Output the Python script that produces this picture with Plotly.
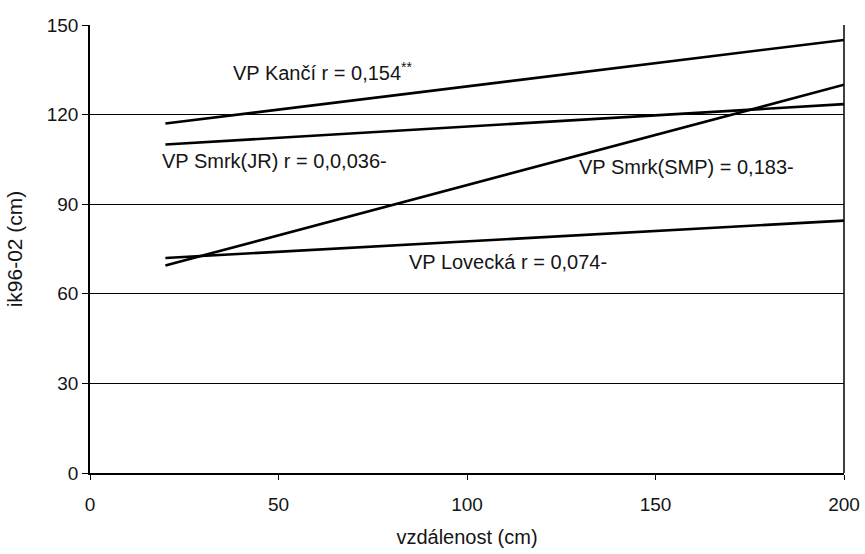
import plotly.graph_objects as go

# Regression lines: ik96-02 vs. distance, one per stand
distance = [20, 200]
kanci = [117, 145]
smrk_jr = [110, 123.5]
smrk_smp = [69.5, 130]
lovecka = [72, 84.5]

series = [
    ("VP Kančí", kanci),
    ("VP Smrk(JR)", smrk_jr),
    ("VP Smrk(SMP)", smrk_smp),
    ("VP Lovecká", lovecka),
]

# Line labels with correlation coefficients (x, y in data units)
labels = [
    ("VP Kančí r = 0,154<sup>**</sup>", 37.5, 134.5),
    ("VP Smrk(JR) r = 0,0,036-", 18.5, 104.5),
    ("VP Smrk(SMP) = 0,183-", 129.3, 102.3),
    ("VP Lovecká r = 0,074-", 84.2, 70.6),
]

x_ticks = [0, 50, 100, 150, 200]
y_ticks = [0, 30, 60, 90, 120, 150]

FONT = "Liberation Sans, Arial, sans-serif"
TXT = "#151515"

fig = go.Figure()
for name, vals in series:
    fig.add_trace(go.Scatter(
        x=distance, y=vals, mode="lines", name=name,
        line=dict(color="black", width=2.6), showlegend=False,
    ))

for text, x, y in labels:
    fig.add_annotation(
        x=x, y=y, text=text, showarrow=False, xanchor="left", yanchor="middle",
        font=dict(family=FONT, size=20, color=TXT),
    )

fig.update_xaxes(
    range=[0, 200], tickvals=x_ticks, ticks="outside", ticklen=5, tickcolor="black",
    ticklabelstandoff=8, automargin=False,
    showgrid=False, showline=True, linecolor="black", linewidth=1.5, mirror=False,
    zeroline=False,
    title=dict(text="vzdálenost (cm)", font=dict(family=FONT, size=20, color=TXT), standoff=16),
    tickfont=dict(family=FONT, size=19, color=TXT),
)
fig.update_yaxes(
    range=[0, 150], tickvals=y_ticks, ticks="outside", ticklen=6, tickcolor="black",
    automargin=False,
    showgrid=True, gridcolor="black", gridwidth=1.2,
    showline=True, linecolor="black", linewidth=1.5, zeroline=False,
    title=dict(text="ik96-02 (cm)", font=dict(family=FONT, size=21, color=TXT), standoff=18),
    tickfont=dict(family=FONT, size=19, color=TXT),
)

# Right-hand frame edge of the plotting area
fig.add_shape(type="line", xref="paper", yref="paper", x0=1, x1=1, y0=0, y1=1,
              line=dict(color="black", width=1.5))

fig.update_layout(
    width=865, height=554,
    margin=dict(l=90, r=21, t=25, b=81),
    paper_bgcolor="white", plot_bgcolor="white",
)

fig.write_html("out.html")
